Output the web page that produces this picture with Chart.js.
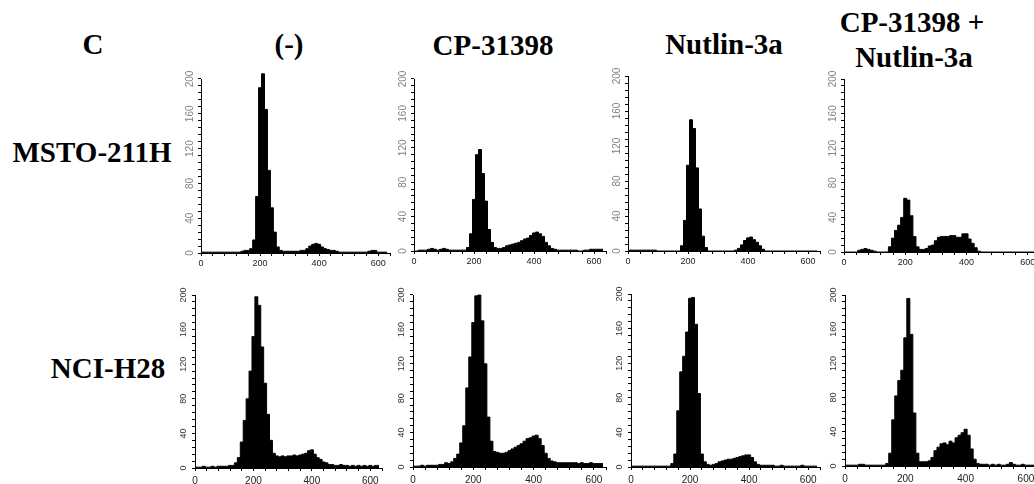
<!DOCTYPE html>
<html>
<head>
<meta charset="utf-8">
<script src="https://cdn.jsdelivr.net/npm/chart.js@4"></script>
<style>
  html, body { margin: 0; padding: 0; background: #fff; overflow: hidden; }
  #figure { position: relative; width: 1034px; height: 484px; }
  canvas { position: absolute; }
  .label {
    position: absolute;
    transform: translate(-50%, -50%);
    font-family: 'Liberation Serif', 'Times New Roman', serif;
    font-weight: bold;
    font-size: 29px;
    line-height: 1;
    color: #000;
    white-space: nowrap;
  }
</style>
</head>
<body>
<div id="figure"></div>
<script>
// DNA content channel (bin start), shared by every histogram
const channels = [0, 10, 20, 30, 40, 50, 60, 70, 80, 90, 100, 110, 120, 130,
  140, 150, 160, 170, 180, 190, 200, 210, 220, 230, 240, 250, 260, 270,
  280, 290, 300, 310, 320, 330, 340, 350, 360, 370, 380, 390, 400, 410,
  420, 430, 440, 450, 460, 470, 480, 490, 500, 510, 520, 530, 540, 550,
  560, 570, 580, 590, 600, 610, 620, 630];

// MSTO-211H
const mstoControl = [1, 1, 1, 1, 1, 1, 1, 1, 1, 1, 1, 1, 1, 1,
  2, 3, 3, 5, 15, 65, 190, 206, 165, 95, 52, 24, 7, 3,
  2, 2, 2, 2, 2, 2, 3, 3, 5, 8, 10, 11, 10, 7,
  5, 4, 3, 3, 2, 1, 1, 1, 1, 1, 1, 1, 1, 1,
  1, 2, 3, 3, 1, 1, 1, 1];
const mstoCp = [0, 0, 1, 1, 1, 2, 3, 2, 1, 2, 3, 2, 1, 1,
  1, 1, 1, 1, 4, 20, 60, 112, 118, 90, 58, 25, 10, 4,
  3, 3, 4, 6, 7, 8, 9, 10, 12, 14, 15, 18, 21, 22,
  20, 17, 10, 6, 3, 2, 1, 1, 1, 1, 1, 1, 1, 0,
  0, 1, 1, 2, 2, 2, 2, 2];
const mstoNutlin = [0, 1, 1, 1, 1, 1, 1, 1, 1, 1, 0, 0, 0, 0,
  0, 0, 0, 0, 6, 35, 98, 150, 140, 95, 48, 17, 4, 0,
  0, 0, 0, 0, 0, 0, 0, 0, 1, 3, 7, 12, 15, 16,
  13, 10, 6, 2, 0, 0, 0, 0, 0, 0, 0, 0, 0, 0,
  0, 0, 0, 0, 0, 0, 0, 0];
const mstoCombo = [0, 0, 0, 0, 0, 2, 3, 4, 3, 2, 1, 0, 0, 0,
  0, 6, 16, 25, 31, 40, 62, 60, 42, 18, 6, 3, 3, 4,
  7, 8, 13, 17, 18, 18, 18, 19, 19, 17, 17, 21, 21, 15,
  10, 5, 1, 0, 0, 0, 0, 0, 0, 0, 0, 0, 0, 0,
  0, 0, 0, 0, 0, 0, 0, 0];

// NCI-H28
const h28Control = [1, 1, 1, 2, 1, 1, 2, 1, 2, 2, 2, 2, 3, 3,
  6, 12, 30, 55, 80, 112, 152, 198, 188, 140, 98, 62, 32, 17,
  14, 13, 14, 13, 14, 14, 15, 14, 15, 16, 17, 20, 21, 16,
  12, 10, 7, 6, 4, 4, 3, 3, 4, 3, 3, 2, 3, 2,
  3, 2, 3, 2, 3, 2, 3, 3];
const h28Cp = [1, 1, 1, 2, 1, 2, 2, 2, 2, 3, 3, 5, 4, 6,
  10, 15, 28, 48, 92, 128, 168, 199, 200, 170, 120, 58, 30, 18,
  17, 16, 16, 17, 19, 21, 23, 25, 27, 30, 33, 34, 36, 37,
  33, 25, 16, 10, 7, 6, 5, 5, 5, 5, 5, 5, 5, 4,
  5, 4, 4, 5, 4, 4, 4, 4];
const h28Nutlin = [1, 1, 1, 1, 1, 1, 1, 1, 1, 1, 1, 1, 1, 1,
  4, 15, 65, 110, 128, 156, 195, 196, 165, 85, 15, 6, 3, 2,
  3, 4, 6, 7, 8, 9, 9, 10, 11, 12, 13, 14, 14, 11,
  6, 3, 2, 2, 2, 2, 2, 1, 1, 2, 1, 1, 1, 1,
  1, 1, 2, 1, 1, 1, 1, 1];
const h28Combo = [1, 1, 1, 1, 1, 2, 2, 1, 1, 1, 1, 1, 1, 1,
  3, 15, 54, 82, 100, 112, 150, 196, 154, 62, 15, 5, 5, 5,
  6, 10, 18, 22, 26, 27, 25, 29, 27, 33, 36, 39, 43, 36,
  20, 8, 3, 2, 2, 2, 1, 2, 1, 2, 1, 1, 2, 4,
  2, 1, 1, 2, 1, 1, 1, 1];

const xTickLabels = [0, 200, 400, 600];
const yTickLabels = [0, 40, 80, 120, 160, 200];
const columnTitles = ['(-)', 'CP-31398', 'Nutlin-3a', 'CP-31398 +', 'Nutlin-3a'];
const rowTitles = ['MSTO-211H', 'NCI-H28'];
const panelLetter = 'C';

const figure = document.getElementById('figure');

function addLabel(text, cx, cy) {
  const div = document.createElement('div');
  div.className = 'label';
  div.textContent = text;
  div.style.left = cx + 'px';
  div.style.top = cy + 'px';
  figure.appendChild(div);
}

addLabel(panelLetter, 93, 44);
addLabel(columnTitles[0], 289, 44);
addLabel(columnTitles[1], 493, 45);
addLabel(columnTitles[2], 724, 44);
addLabel(columnTitles[3], 912, 22);
addLabel(columnTitles[4], 914, 57);
addLabel(rowTitles[0], 92, 152);
addLabel(rowTitles[1], 108, 368);

// rotated y labels + y axis line that stops at 200
const axisPlugin = {
  id: 'axisLabels',
  afterDraw(chart, args, opts) {
    const y = chart.scales.y;
    const ctx = chart.ctx;
    const x0 = Math.round(y.right) + 0.5;
    ctx.save();
    ctx.strokeStyle = '#000';
    ctx.lineWidth = 1;
    ctx.beginPath();
    ctx.moveTo(x0, y.getPixelForValue(0));
    ctx.lineTo(x0, y.getPixelForValue(200));
    ctx.stroke();
    ctx.fillStyle = opts.color;
    ctx.font = opts.size + 'px "Liberation Sans", Arial, sans-serif';
    ctx.textAlign = 'center';
    ctx.textBaseline = 'middle';
    yTickLabels.forEach((v) => {
      ctx.save();
      ctx.translate(y.right - 11, y.getPixelForValue(v));
      ctx.rotate(-Math.PI / 2);
      ctx.fillText(String(v), 0, 0);
      ctx.restore();
    });
    ctx.restore();
  },
};

function makePanel(counts, ax, x600, y0, y200, row) {
  const yMax = 215;
  const ppu = (y0 - y200) / 200;
  const padTop = 3;
  const xAxisH = 24;
  const yAxisW = 30;
  const chartTop = y0 - yMax * ppu;
  const chartRight = ax + (x600 - ax) * 640 / 600;
  const left = ax - yAxisW;
  const top = Math.round(chartTop - padTop);
  const width = Math.round(chartRight - left + 4);
  const height = Math.round(y0 - top + xAxisH);

  const canvas = document.createElement('canvas');
  canvas.width = width;
  canvas.height = height;
  canvas.style.left = left + 'px';
  canvas.style.top = top + 'px';
  canvas.style.width = width + 'px';
  canvas.style.height = height + 'px';
  figure.appendChild(canvas);

  const yMinor = [];
  for (let v = 0; v <= 200; v += 8) yMinor.push({ value: v });
  const xMinor = [];
  for (let v = 0; v <= 640; v += 40) xMinor.push({ value: v });

  new Chart(canvas, {
    type: 'line',
    data: {
      datasets: [{
        data: channels.map((x, i) => ({ x, y: counts[i] })),
        stepped: 'middle',
        fill: 'origin',
        backgroundColor: '#000',
        borderColor: '#000',
        borderWidth: 1,
        pointRadius: 0,
      }],
    },
    options: {
      responsive: false,
      animation: false,
      layout: { padding: { top: y0 - top - yMax * ppu, right: 4, left: 0, bottom: 0 } },
      plugins: {
        legend: { display: false },
        tooltip: { enabled: false },
        axisLabels: row === 0 ? { color: '#808080', size: 10 } : { color: '#333', size: 9 },
      },
      scales: {
        x: {
          type: 'linear',
          min: 0,
          max: 640,
          afterBuildTicks: (s) => { s.ticks = xMinor.slice(); },
          afterFit: (s) => { s.height = xAxisH; },
          border: { display: true, color: '#000', width: 1 },
          grid: { drawOnChartArea: false, drawTicks: true, tickLength: 3, color: '#000' },
          ticks: {
            autoSkip: false,
            maxRotation: 0,
            padding: row === 0 ? 2 : 4,
            color: '#222',
            font: { family: '"Liberation Sans", Arial, sans-serif', size: row === 0 ? 9 : 10 },
            callback: (v) => (xTickLabels.includes(v) ? String(v) : ''),
          },
        },
        y: {
          min: 0,
          max: yMax,
          afterBuildTicks: (s) => { s.ticks = yMinor.slice(); },
          afterFit: (s) => { s.width = yAxisW; },
          border: { display: false },
          grid: { drawOnChartArea: false, drawTicks: true, tickLength: 3, color: '#000' },
          ticks: { display: false },
        },
      },
    },
    plugins: [axisPlugin],
  });
}

makePanel(mstoControl, 201, 378, 253, 79, 0);
makePanel(mstoCp, 414, 594, 251, 79, 0);
makePanel(mstoNutlin, 628, 808, 251, 76, 0);
makePanel(mstoCombo, 844, 1028, 252, 79, 0);
makePanel(h28Control, 195, 370, 468, 295, 1);
makePanel(h28Cp, 413, 594, 467, 295, 1);
makePanel(h28Nutlin, 631, 808, 467, 294, 1);
makePanel(h28Combo, 845, 1026, 466, 295, 1);
</script>
</body>
</html>
